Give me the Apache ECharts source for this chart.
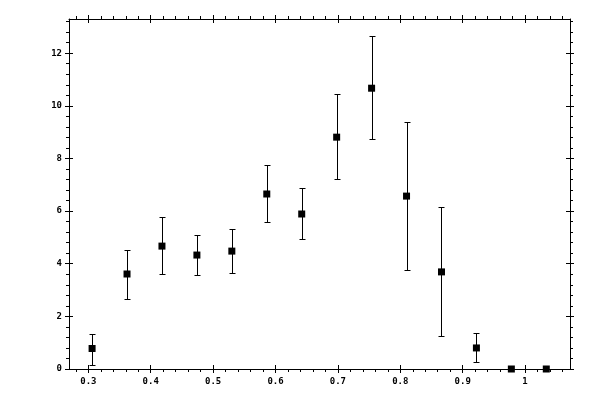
<!DOCTYPE html>
<html>
<head>
<meta charset="utf-8">
<script src="https://cdn.jsdelivr.net/npm/echarts@6/dist/echarts.min.js"></script>
<style>
  html, body { margin: 0; padding: 0; background: #fff; }
  #chart { width: 600px; height: 400px; }
</style>
</head>
<body>
<div id="chart"></div>
<script>
// values
var xVals = [0.306, 0.362, 0.418, 0.474, 0.530, 0.586, 0.642, 0.698, 0.754, 0.810, 0.866, 0.922, 0.978, 1.034]
var yVals = [0.78, 3.61, 4.67, 4.33, 4.48, 6.65, 5.89, 8.81, 10.67, 6.57, 3.69, 0.80, 0, 0]
var yLow  = [0.16, 2.66, 3.61, 3.57, 3.66, 5.59, 4.94, 7.22, 8.74, 3.76, 1.26, 0.25, 0, 0]
var yHigh = [1.32, 4.52, 5.79, 5.10, 5.32, 7.75, 6.88, 10.44, 12.66, 9.38, 6.14, 1.37, 0, 0]

var xTicks = [0.3, 0.4, 0.5, 0.6, 0.7, 0.8, 0.9, 1]
var yTicks = [0, 2, 4, 6, 8, 10, 12]
var xMin = 0.269, xMax = 1.072
var yMin = 0, yMax = 13.3

// minor ticks every 0.02 on x, every 0.4 on y
var xMinor = []
for (var k = 14; k <= 53; k++) { if (k % 5) xMinor.push(k / 50) }
var yMinor = []
for (var j = 1; j <= 33; j++) { if (j % 5) yMinor.push(Math.round(j * 4) / 10) }

var font = { fontFamily: 'DejaVu Sans Mono', fontSize: 9, fontWeight: 'bold', color: '#000' }

function makeAxis(kind, pos, ticks, inside, len, withLine, withLabel) {
  var a = {
    type: 'value',
    position: pos,
    min: kind === 'x' ? xMin : yMin,
    max: kind === 'x' ? xMax : yMax,
    splitLine: { show: false },
    axisLine: { show: withLine, onZero: false, lineStyle: { color: '#000', width: 1 } },
    axisTick: { show: true, inside: inside, length: len, customValues: ticks,
                lineStyle: { color: '#000', width: 1 } },
    axisLabel: { show: false }
  }
  if (withLabel) {
    a.axisLabel = Object.assign({ show: true, margin: kind === 'x' ? 8 : 7, customValues: ticks,
      formatter: function (v) { return String(v) } }, font)
  }
  return a
}

var xAxes = [
  makeAxis('x', 'bottom', xTicks, false, 4, true, true),
  makeAxis('x', 'bottom', xTicks, true, 4, false, false),
  makeAxis('x', 'bottom', xMinor, false, 3, false, false),
  makeAxis('x', 'top', xTicks, false, 4, true, false),
  makeAxis('x', 'top', xTicks, true, 4, false, false),
  makeAxis('x', 'top', xMinor, false, 3, false, false)
]
var yAxes = [
  makeAxis('y', 'left', yTicks, false, 4, true, true),
  makeAxis('y', 'left', yTicks, true, 4, false, false),
  makeAxis('y', 'left', yMinor, false, 3, false, false),
  makeAxis('y', 'right', yTicks, false, 4, true, false),
  makeAxis('y', 'right', yTicks, true, 4, false, false),
  makeAxis('y', 'right', yMinor, false, 3, false, false)
]

var points = xVals.map(function (x, i) { return [x, yVals[i]] })
var bars = xVals.map(function (x, i) { return [x, yLow[i], yHigh[i]] })

// snap to pixel centres so 1px lines stay crisp
function px(v) { return Math.round(v) + 0.5 }

var chart = echarts.init(document.getElementById('chart'), null, { renderer: 'canvas' })
chart.setOption({
  animation: false,
  backgroundColor: '#fff',
  grid: { left: 69, right: 30, top: 19, bottom: 31 },
  xAxis: xAxes,
  yAxis: yAxes,
  series: [
    {
      type: 'custom',
      xAxisIndex: 0,
      yAxisIndex: 0,
      clip: false,
      data: bars,
      encode: { x: 0, y: [1, 2] },
      renderItem: function (params, api) {
        var x = api.value(0), lo = api.value(1), hi = api.value(2)
        if (hi <= lo) return
        var t = api.coord([x, hi])
        var b = api.coord([x, lo])
        var cx = px(t[0]), ty = px(t[1]), by = px(b[1])
        var w = 3
        var st = { stroke: '#000', lineWidth: 1 }
        return {
          type: 'group',
          children: [
            { type: 'line', shape: { x1: cx, y1: ty, x2: cx, y2: by }, style: st },
            { type: 'line', shape: { x1: cx - w, y1: ty, x2: cx + w, y2: ty }, style: st },
            { type: 'line', shape: { x1: cx - w, y1: by, x2: cx + w, y2: by }, style: st }
          ]
        }
      }
    },
    {
      type: 'scatter',
      xAxisIndex: 0,
      yAxisIndex: 0,
      clip: false,
      symbol: 'rect',
      symbolSize: 7,
      itemStyle: { color: '#000', opacity: 1 },
      data: points
    }
  ]
})
</script>
</body>
</html>
